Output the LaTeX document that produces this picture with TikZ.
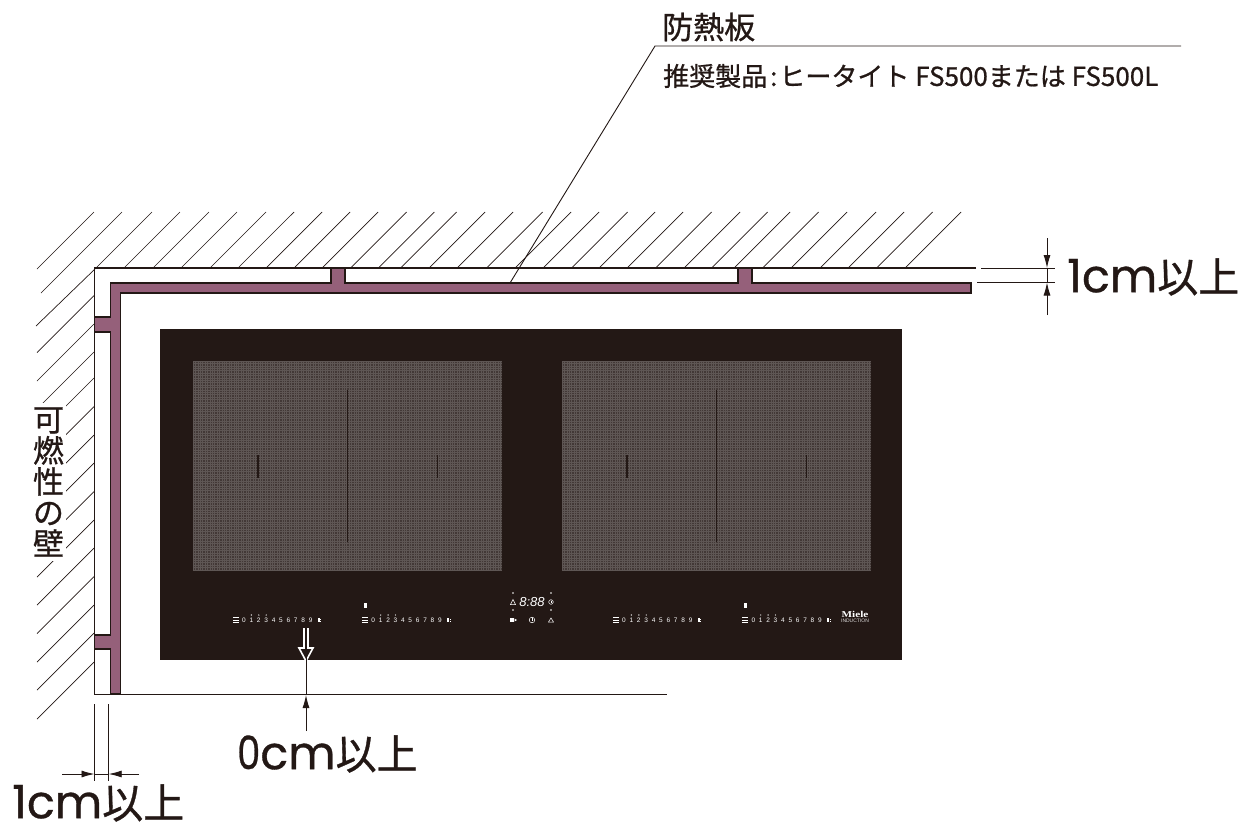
\documentclass[tikz,border=0pt]{standalone}
\usepackage{fontspec}
\usepackage{graphicx}
\setmainfont{Liberation Sans}
\newfontfamily\jp{Noto Sans CJK JP}
\newfontfamily\jpb{Noto Sans CJK JP}[FakeBold=0.8]
\newfontfamily\popp{Poppins}[FakeBold=0.7]
\newfontfamily\serifm{Liberation Serif}
\usetikzlibrary{arrows.meta}
\definecolor{ink}{HTML}{231815}
\definecolor{board}{HTML}{95607A}
\tikzset{
  hatchline/.style={draw=ink,line width=0.7pt},
  wallline/.style={draw=ink,line width=1.2pt},
  thinline/.style={draw=ink,line width=0.9pt},
  boardshape/.style={draw=ink,fill=board,line width=1.9pt,line join=miter},
  dimarrow/.style={draw=ink,line width=0.9pt,-{Latex[length=13pt,width=7pt]}},
  biglabel/.style={inner sep=0pt,text=ink,font=\fontsize{41}{41}\selectfont\jpb},
  digitlabel/.style={inner sep=0pt,text=white,font=\fontsize{6.5}{6.5}\selectfont},
  zonegrid/.style={draw=white!27!ink,line width=0.5pt},
  seam/.style={draw=ink,line width=1.5pt},
  whiteicon/.style={draw=white,line width=0.5pt},
}
\newcommand{\slidergroup}[2]{%
  \foreach \d in {0,...,9}{\node[digitlabel] (#2d\d) at ({#1+7.4*\d},620) {\d};}
  \foreach \d in {1,2,3}{\fill[white] ({#1+7.4*\d},615) circle (0.7);}
  \foreach \yy in {617.5,620,622.5}{\draw[whiteicon] ({#1-11},\yy) -- ({#1-5},\yy);}
  \fill[white] ({#1+73.5},618) rectangle ({#1+75.5},622);
  \fill[white] ({#1+76.3},618.5) rectangle ({#1+77.3},619.5);
  \fill[white] ({#1+76.3},620.5) rectangle ({#1+77.3},621.5);
}
\newcommand{\hobzone}[1]{%
  \fill[fill=white!14!ink] (#1,361) rectangle (#1+309,571);
  \foreach \xx in {0,2.4,...,309}{\draw[zonegrid] (#1+\xx,361) -- (#1+\xx,571);}
  \foreach \yy in {0,2.4,...,210}{\draw[zonegrid] (#1,361+\yy) -- (#1+309,361+\yy);}
  \draw[seam] (#1+154.7,390) -- (#1+154.7,542);
  \draw[seam] (#1+65,455) -- (#1+65,478);
  \draw[seam] (#1+244.7,455) -- (#1+244.7,478);
}
\begin{document}
\begin{tikzpicture}[x=1pt,y=-1pt]
\useasboundingbox (0,0) rectangle (1251,827);
\fill[white] (0,0) rectangle (1251,827);
% hatching above the wall
\foreach \bx in {96,124,153,181,210,238,266,294,322,350.7,378.3,400.7,429,457,486.7,515,543,571.7,599,627,655.7,684,711.7,734,762.7,791,820,848,876.7,905}
  {\draw[hatchline] (\bx,268) -- (\bx+56,212);}
\draw[hatchline] (94,212) -- (37,269);
\draw[hatchline] (122,212) -- (41,293);
\draw[hatchline] (96,268) -- (36,326);
% hatching left of the wall
\foreach \wy in {295.7,324,352,378,406.7,435,463,491.7,520,548,576.7,605,633,662}
  {\draw[hatchline] (94,\wy) -- (37,\wy+57);}
% wall label
\node[inner sep=0pt,fill=white,minimum width=35pt,minimum height=158pt,align=center,text=ink,
      font=\fontsize{31}{31}\selectfont\jpb] (walltext) at (48.5,482) {可\\燃\\性\\の\\壁};
% wall outline
\draw[wallline] (976,268) -- (94.5,268) -- (94.5,694.5) -- (667,694.5);
% heat shield
\draw[boardshape] (110.5,694) -- (110.5,649) -- (94.5,649) -- (94.5,635) -- (110.5,635)
  -- (110.5,332) -- (94.5,332) -- (94.5,317) -- (110.5,317) -- (110.5,283)
  -- (331,283) -- (331,268) -- (345,268) -- (345,283)
  -- (738,283) -- (738,268) -- (752,268) -- (752,283)
  -- (971,283) -- (971,293) -- (120.5,293) -- (120.5,694) -- cycle;
% hob
\fill[ink] (160,329) rectangle (902,660);
\hobzone{193}
\hobzone{562}
\slidergroup{244}{a}
\slidergroup{373.3}{b}
\slidergroup{624}{c}
\slidergroup{753.3}{e}
\fill[white] (364.2,603) rectangle (367.2,607.5);
\fill[white] (744.2,603) rectangle (747.2,607.5);
% display
\node[inner sep=0pt,text=white,font=\fontsize{13}{13}\selectfont\itshape] (display) at (532,602) {8:88};
\foreach \px/\py in {513/593,551/593,513/610,551/610}{\fill[white] (\px,\py) circle (0.9);}
\draw[whiteicon] (510.5,604.5) -- (515.5,604.5) -- (513,599.5) -- cycle;
\draw[whiteicon] (551,602) circle (2.3);
\draw[whiteicon] (551,600.5) -- (551,602) -- (552.3,602);
\fill[white] (510,618) rectangle (514,622);
\fill[white] (514.5,618.5) -- (517,620) -- (514.5,621.5) -- cycle;
\draw[whiteicon] (532,620) circle (2.8);
\draw[whiteicon] (532,618) -- (532,621);
\draw[whiteicon] (551,618) -- (548.5,622) -- (553.5,622) -- cycle;
\node[inner sep=0pt,text=white,font=\fontsize{10}{10}\selectfont\serifm\bfseries] (logo) at (855,614) {\scalebox{1.12}[0.9]{Miele}};
\node[inner sep=0pt,text=white!85!ink,font=\fontsize{5}{5}\selectfont] (induct) at (855,620.5) {INDUCTION};
% 0cm dimension
\coordinate (zerotop) at (306,661);
\coordinate (zerobot) at (306,731);
\coordinate (zerotip) at (306,695);
\draw[white,line width=1.6pt,line join=miter] (304,628) -- (304,648) -- (299,648) -- (zerotop) -- (313,648) -- (308,648) -- (308,628);
\draw[dimarrow] (zerobot) -- (zerotip);
\draw[thinline] (306,653) -- (zerotip);
\node[biglabel,anchor=west] (zero) at (237,754) {{\popp\fontsize{46}{46}\selectfont\scalebox{.8}[1]{0}cm}以上};
% left 1cm dimension
\coordinate (la1) at (94.5,704); \coordinate (la2) at (94.5,781);
\coordinate (lb1) at (108.7,704); \coordinate (lb2) at (108.7,781);
\coordinate (lt1) at (62,774); \coordinate (lt2) at (139,774);
\coordinate (lh1) at (94.5,774); \coordinate (lh2) at (108.7,774);
\draw[thinline] (la1) -- (la2);
\draw[thinline] (lb1) -- (lb2);
\draw[dimarrow] (lt1) -- (lh1);
\draw[dimarrow] (lt2) -- (lh2);
\draw[thinline] (lh1) -- (lh2);
\node[biglabel,anchor=west] (leftlabel) at (12,803) {{\popp\fontsize{46}{46}\selectfont 1cm}以上};
% right 1cm dimension
\coordinate (ra1) at (981,268); \coordinate (ra2) at (1055,268);
\coordinate (rb1) at (977,282.5); \coordinate (rb2) at (1055,282.5);
\coordinate (rt1) at (1047,238); \coordinate (rt2) at (1047,315);
\coordinate (rh1) at (1047,268); \coordinate (rh2) at (1047,282.5);
\draw[thinline] (ra1) -- (ra2);
\draw[thinline] (rb1) -- (rb2);
\draw[dimarrow] (rt1) -- (rh1);
\draw[dimarrow] (rt2) -- (rh2);
\draw[thinline] (rh1) -- (rh2);
\node[biglabel,anchor=west] (rightlabel) at (1067,277) {{\popp\fontsize{46}{46}\selectfont 1cm}以上};
% leader
\coordinate (ldr0) at (510,283); \coordinate (ldr1) at (655,46); \coordinate (ldr2) at (1181,46);
\draw[thinline] (ldr0) -- (ldr1) -- (ldr2);
\node[inner sep=0pt,anchor=west,text=ink,font=\fontsize{31}{31}\selectfont\jpb] (title) at (662,27) {防熱板};
\node[inner sep=0pt,anchor=west,text=ink,font=\fontsize{26}{26}\selectfont\jpb] (product) at (663,76) {推奨製品\hspace{3pt}:\hspace{2pt}ヒータイト FS500または FS500L};
\end{tikzpicture}
\end{document}
